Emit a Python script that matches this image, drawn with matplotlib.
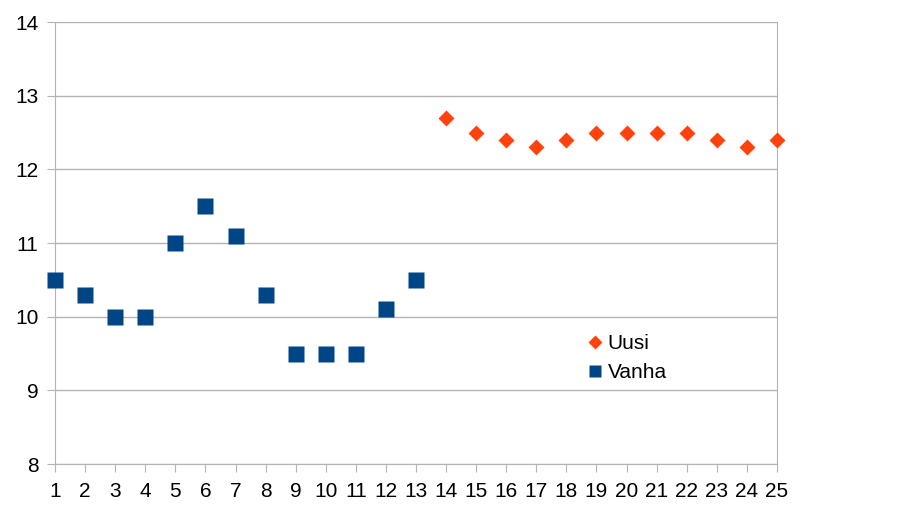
import matplotlib.pyplot as plt
import numpy as np

plt.rcParams['font.family'] = ['Liberation Sans', 'DejaVu Sans']

vanha_x = [1, 2, 3, 4, 5, 6, 7, 8, 9, 10, 11, 12, 13]
vanha_y = [10.5, 10.3, 10.0, 10.0, 11.0, 11.5, 11.1, 10.3, 9.5, 9.5, 9.5, 10.1, 10.5]
uusi_x = [14, 15, 16, 17, 18, 19, 20, 21, 22, 23, 24, 25]
uusi_y = [12.7, 12.5, 12.4, 12.3, 12.4, 12.5, 12.5, 12.5, 12.5, 12.4, 12.3, 12.4]

fig = plt.figure(figsize=(9.08, 5.11), dpi=100)
ax = fig.add_axes([55/908, 47/511, 722/908, 442/511])

ax.plot(uusi_x, uusi_y, 'D', color='#ff420e', ms=8.5, mec='none', label='Uusi', clip_on=False, zorder=3)
ax.plot(vanha_x, vanha_y, 's', color='#004586', ms=11, mec='none', label='Vanha', clip_on=False, zorder=3)

ax.set_xlim(1, 25)
ax.set_ylim(8, 14)
ax.set_xticks(range(1, 26))
ax.set_yticks(range(8, 15))
ax.grid(axis='y', color='#b3b3b3', lw=1)
ax.set_axisbelow(True)
for s in ['left', 'bottom', 'right']:
    ax.spines[s].set_color('#b3b3b3')
ax.spines['top'].set_visible(False)
ax.tick_params(axis='x', direction='out', length=6, color='#b3b3b3', labelsize=15, pad=7)
ax.tick_params(axis='y', direction='out', length=6, color='#b3b3b3', labelsize=15, pad=6)

ax.legend(loc='upper left', bbox_to_anchor=(589/908, 1 - 334/511), bbox_transform=fig.transFigure,
          frameon=False, fontsize=15, handlelength=0.6, handletextpad=0.3, labelspacing=0.5,
          borderaxespad=0, borderpad=0, markerscale=0.85)

fig.savefig('out.png', dpi=100)
